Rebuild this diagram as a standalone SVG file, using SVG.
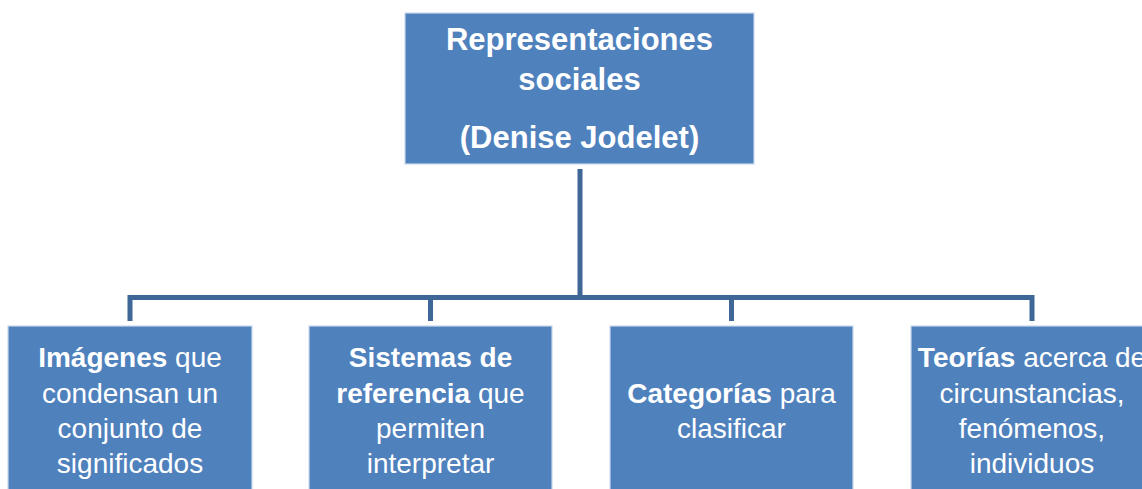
<svg xmlns="http://www.w3.org/2000/svg" width="1142" height="489" viewBox="0 0 1142 489">
<style>
.box{fill:#4F81BD;stroke:#C9D8EB;stroke-width:1.2}
.conn{fill:none;stroke:#3E6696;stroke-width:5;stroke-linejoin:miter}
.t{font-family:"Liberation Sans",Arial,sans-serif;fill:#fff;text-anchor:middle}
.top{font-size:31px;font-weight:bold}
.bot{font-size:28px}
.b{font-weight:bold}
</style>
<rect width="1142" height="489" fill="#fff"/>
<g id="connectors">
<path class="conn" d="M580,169 V297.5"/>
<path class="conn" d="M130,321 V297.5 H1032 V321"/>
<path class="conn" d="M430.5,297.5 V321"/>
<path class="conn" d="M731.5,297.5 V321"/>
</g>
<g id="root">
<rect class="box" x="405" y="13" width="349" height="151"/>
<text class="t top" x="579.5" y="50">Representaciones</text>
<text class="t top" x="579.5" y="90">sociales</text>
<text class="t top" x="579.5" y="148">(Denise Jodelet)</text>
</g>
<g id="n1">
<rect class="box" x="8" y="326" width="244" height="170"/>
<text class="t bot" x="130" y="367"><tspan class="b">Imágenes</tspan> que</text>
<text class="t bot" x="130" y="403">condensan un</text>
<text class="t bot" x="130" y="438">conjunto de</text>
<text class="t bot" x="130" y="473">significados</text>
</g>
<g id="n2">
<rect class="box" x="309" y="326" width="243" height="170"/>
<text class="t bot" x="430.5" y="367"><tspan class="b">Sistemas de</tspan></text>
<text class="t bot" x="430.5" y="403"><tspan class="b">referencia</tspan> que</text>
<text class="t bot" x="430.5" y="438">permiten</text>
<text class="t bot" x="430.5" y="473">interpretar</text>
</g>
<g id="n3">
<rect class="box" x="610" y="326" width="243" height="170"/>
<text class="t bot" x="731.5" y="403"><tspan class="b">Categorías</tspan> para</text>
<text class="t bot" x="731.5" y="438">clasificar</text>
</g>
<g id="n4">
<rect class="box" x="911" y="326" width="243" height="170"/>
<text class="t bot" x="1032" y="367"><tspan class="b">Teorías</tspan> acerca de</text>
<text class="t bot" x="1032" y="403">circunstancias,</text>
<text class="t bot" x="1032" y="438">fenómenos,</text>
<text class="t bot" x="1032" y="473">individuos</text>
</g>
</svg>
